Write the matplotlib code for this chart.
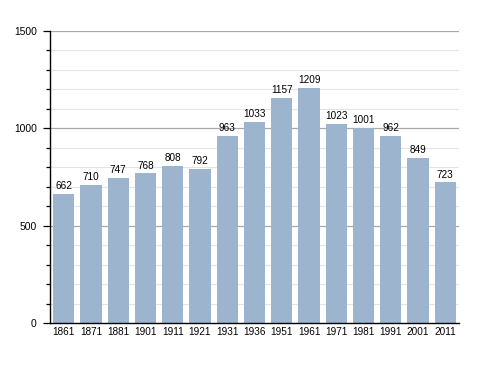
import matplotlib
matplotlib.use("Agg")
import matplotlib.pyplot as plt
import numpy as np

years = ["1861", "1871", "1881", "1901", "1911", "1921", "1931", "1936",
         "1951", "1961", "1971", "1981", "1991", "2001", "2011"]
population = [662, 710, 747, 768, 808, 792, 963, 1033, 1157, 1209, 1023, 1001, 962, 849, 723]

plt.rcParams['font.family'] = ['Liberation Sans', 'DejaVu Sans']
fig = plt.figure(figsize=(4.88, 3.73), dpi=100)
ax = fig.add_axes([0.1025, 0.134, 0.838, 0.783])

x = np.arange(len(years))
ax.bar(x, population, width=0.78, color="#9db4cf", zorder=2)
for xi, v in zip(x, population):
    ax.text(xi, v + 14, str(v), ha="center", va="bottom", fontsize=7.2, zorder=3)

ax.set_xlim(-0.5, len(years) - 0.5)
ax.set_ylim(0, 1500)
ax.set_xticks(x)
ax.set_xticklabels(years, fontsize=7.2)
ax.set_yticks([0, 500, 1000, 1500])
ax.set_yticklabels(["0", "500", "1000", "1500"], fontsize=7.4)
ax.set_yticks(np.arange(0, 1501, 100), minor=True)
ax.tick_params(axis="x", length=0, pad=3)
ax.tick_params(axis="y", which="major", length=5, width=0.9, direction="out", pad=4.5)
ax.tick_params(axis="y", which="minor", length=3, width=0.9, direction="out")

for yv in range(100, 1501, 100):
    if yv % 500 == 0:
        ax.axhline(yv, color="#a8a8a8", lw=0.9, zorder=1)
    else:
        ax.axhline(yv, color="#e4e4e4", lw=0.8, zorder=1)

for s in ["top", "right"]:
    ax.spines[s].set_visible(False)
ax.spines["left"].set_linewidth(1.0)
ax.spines["bottom"].set_linewidth(1.0)

fig.savefig("out.png", dpi=100)
